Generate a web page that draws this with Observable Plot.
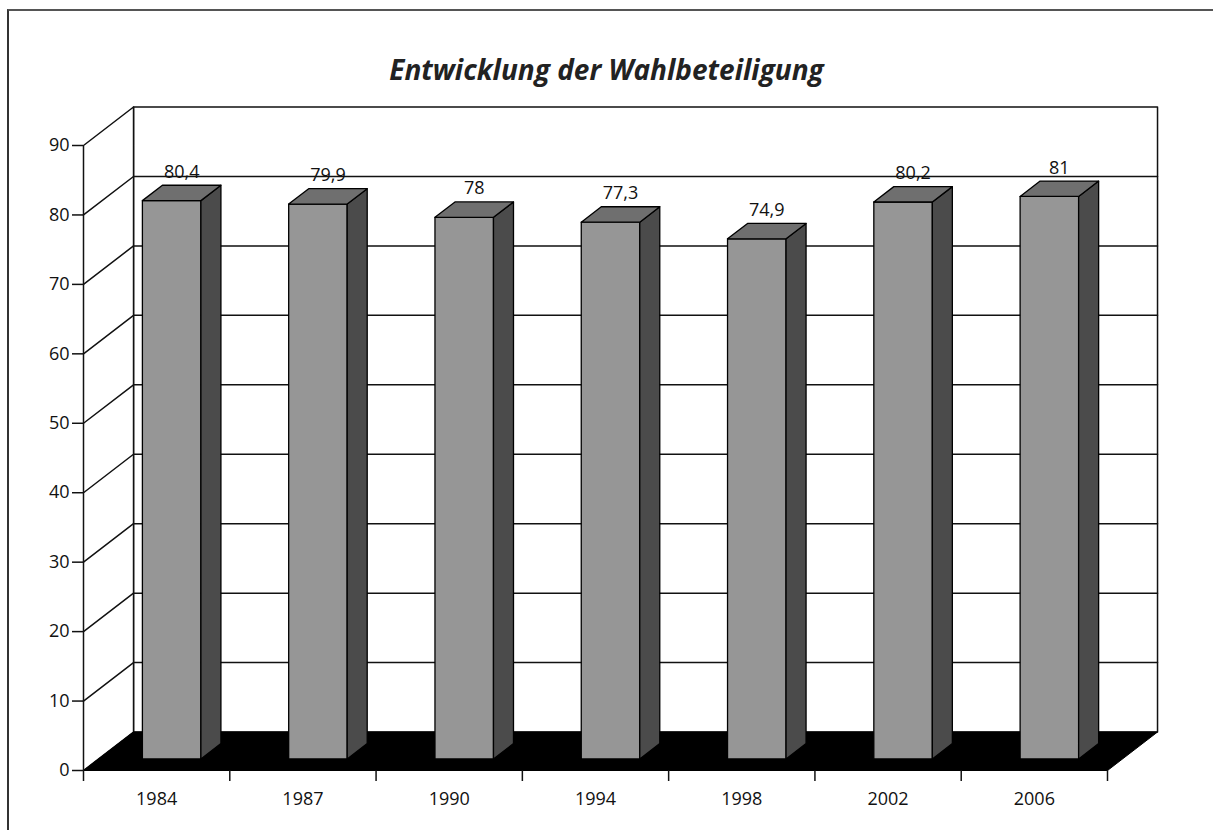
<!DOCTYPE html>
<html>
<head>
<meta charset="utf-8">
<script src="https://cdn.jsdelivr.net/npm/d3@7"></script>
<script src="https://cdn.jsdelivr.net/npm/@observablehq/plot@0.6"></script>
<style>
  html, body { margin: 0; padding: 0; background: #fff; }
  #wrap { position: relative; width: 1213px; height: 830px; overflow: hidden; }
  #border { position: absolute; left: 7px; top: 9px; right: -5px; bottom: -5px; border-left: 2px solid #333; border-top: 2px solid #555; }
  #title { position: absolute; left: 0; width: 1213px; top: 50px; text-align: center;
    font: italic bold 28px "Open Sans", sans-serif; color: #222; }
  #chart { position: absolute; left: 0; top: 0; }
</style>
</head>
<body>
<div id="wrap">
  <div id="border"></div>
  <div id="title">Entwicklung der Wahlbeteiligung</div>
  <div id="chart"></div>
</div>
<script>
// Data
const years = ["1984", "1987", "1990", "1994", "1998", "2002", "2006"];
const turnout = [80.4, 79.9, 78, 77.3, 74.9, 80.2, 81];
const labels = ["80,4", "79,9", "78", "77,3", "74,9", "80,2", "81"];
const yTicks = [0, 10, 20, 30, 40, 50, 60, 70, 80, 90];

// 3D depth (in data units) — style constants
const DX = 0.342;   // depth in category units
const DY = 5.54;    // depth in value units
const F0 = 0.3, F1 = 0.7; // bar depth from front (fraction)
const BW = 0.4;     // bar width (fraction of category)
const N = years.length;
const YMAX = 90;

const bars = years.map((yr, i) => ({yr, i, v: turnout[i], label: labels[i]}));

// polygons
const poly = (pts, id) => pts.map(([x, y]) => ({x, y, id}));
const backWall = poly([[DX, DY], [N + DX, DY], [N + DX, YMAX + DY], [DX, YMAX + DY], [DX, DY]], "back");
const leftWall = poly([[0, 0], [0, YMAX], [DX, YMAX + DY], [DX, DY], [0, 0]], "left");
const floor = poly([[0, 0], [N, 0], [N + DX, DY], [DX, DY], [0, 0]], "floor");

const grid = [];
yTicks.filter(t => t > 0 && t < YMAX).forEach(t => {
  grid.push({x: 0, y: t, id: "d" + t}, {x: DX, y: t + DY, id: "d" + t}, {x: N + DX, y: t + DY, id: "d" + t});
});

const fronts = [], sides = [], tops = [];
bars.forEach(b => {
  const xl = b.i + (1 - BW) / 2 + F0 * DX, xr = xl + BW;
  const y0 = F0 * DY, y1 = b.v + F0 * DY;
  const ddx = (F1 - F0) * DX, ddy = (F1 - F0) * DY;
  fronts.push(...poly([[xl, y0], [xr, y0], [xr, y1], [xl, y1], [xl, y0]], "f" + b.i));
  sides.push(...poly([[xr, y0], [xr + ddx, y0 + ddy], [xr + ddx, y1 + ddy], [xr, y1], [xr, y0]], "s" + b.i));
  tops.push(...poly([[xl, y1], [xr, y1], [xr + ddx, y1 + ddy], [xl + ddx, y1 + ddy], [xl, y1]], "t" + b.i));
});

const labelData = bars.map(b => ({x: b.i + 0.5 + 0.5 * DX, y: b.v + 0.5 * DY, label: b.label}));
const catData = bars.map(b => ({x: b.i + 0.5, label: b.yr}));

const font = '"Open Sans", sans-serif';

const chart = Plot.plot({
  width: 1213,
  height: 830,
  marginLeft: 83,
  marginRight: 106,
  marginTop: 145,
  marginBottom: 60,
  style: {fontFamily: font, fontSize: "18px", color: "#111", background: "transparent", overflow: "visible"},
  x: {domain: [0, N], axis: null},
  y: {domain: [0, YMAX], axis: null},
  marks: [
    Plot.line(backWall, {x: "x", y: "y", z: "id", fill: "white", stroke: "#111", strokeWidth: 1.5}),
    Plot.line(leftWall, {x: "x", y: "y", z: "id", fill: "white", stroke: "#111", strokeWidth: 1.5}),
    Plot.line(grid, {x: "x", y: "y", z: "id", stroke: "#111", strokeWidth: 1.5}),
    Plot.line(floor, {x: "x", y: "y", z: "id", fill: "black", stroke: "black", strokeWidth: 1}),
    Plot.line(fronts, {x: "x", y: "y", z: "id", fill: "#969696", stroke: "#000", strokeWidth: 1.3}),
    Plot.line(sides, {x: "x", y: "y", z: "id", fill: "#4b4b4b", stroke: "#000", strokeWidth: 1.3}),
    Plot.line(tops, {x: "x", y: "y", z: "id", fill: "#6f6f6f", stroke: "#000", strokeWidth: 1.3}),
    Plot.text(labelData, {x: "x", y: "y", text: "label", dy: -21, fontSize: 18, fill: "#111"}),
    Plot.axisY({ticks: yTicks, label: null, tickSize: 11, tickPadding: 3, fontSize: 18, strokeWidth: 1.5}),
    Plot.axisX({ticks: d3.range(N + 1), label: null, tickSize: 11, tickFormat: () => "", strokeWidth: 1.5}),
    Plot.text(catData, {x: "x", y: 0, text: "label", dy: 29, fontSize: 18, fill: "#111"})
  ]
});
document.getElementById("chart").appendChild(chart);
</script>
</body>
</html>
